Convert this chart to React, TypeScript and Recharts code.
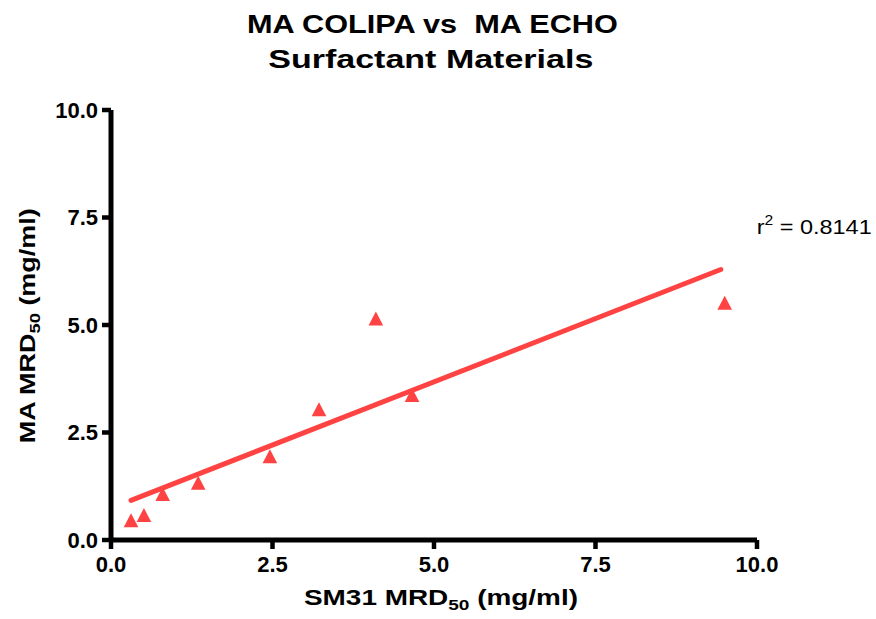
import React from "react";
import { ScatterChart, Scatter, XAxis, YAxis } from "recharts";

const xValues = [0.31, 0.51, 0.8, 1.35, 2.46, 3.22, 4.1, 4.66, 9.5];
const yValues = [0.46, 0.58, 1.07, 1.33, 1.95, 3.04, 5.15, 3.37, 5.52];
const fitX = [0.31, 9.44];
const fitY = [0.92, 6.29];
const axisTicks = [0, 2.5, 5, 7.5, 10];
const titleLines = ["MA COLIPA vs  MA ECHO", "Surfactant Materials"];
const rSquared = "0.8141";

const RED = "#FF4242";
const FONT = "'Liberation Sans', Arial, Helvetica, sans-serif";

const points = xValues.map((x, i) => ({ x, y: yValues[i] }));
const fitLine = fitX.map((x, i) => ({ x, y: fitY[i] }));

const Triangle = (props: any) => {
  const { cx, cy } = props;
  if (cx == null || cy == null) return <g />;
  return (
    <path
      d={`M${cx},${cy - 7} L${cx + 7.3},${cy + 7} L${cx - 7.3},${cy + 7} Z`}
      fill={RED}
    />
  );
};

const NoShape = () => <g />;

const tickStyle = { fill: "#000", fontSize: 22, fontWeight: "bold", fontFamily: FONT };

export default function App() {
  return (
    <div style={{ position: "absolute", left: 0, top: 0, width: 876, height: 619, background: "#fff" }}>
      <ScatterChart width={876} height={619} margin={{ top: 110, right: 119, bottom: 39, left: 31 }}>
        <XAxis
          type="number"
          dataKey="x"
          domain={[0, 10]}
          ticks={axisTicks}
          interval={0}
          tickFormatter={(v: number) => v.toFixed(1)}
          height={40}
          axisLine={{ stroke: "#000", strokeWidth: 5 }}
          tickLine={{ stroke: "#000", strokeWidth: 4.5 }}
          tickSize={9}
          tickMargin={7}
          tick={tickStyle}
          allowDataOverflow
        />
        <YAxis
          type="number"
          dataKey="y"
          domain={[0, 10]}
          ticks={axisTicks}
          interval={0}
          tickFormatter={(v: number) => v.toFixed(1)}
          width={80}
          axisLine={{ stroke: "#000", strokeWidth: 5 }}
          tickLine={{ stroke: "#000", strokeWidth: 4.5 }}
          tickSize={9}
          tickMargin={4}
          tick={tickStyle}
          allowDataOverflow
        />
        <Scatter data={points} shape={Triangle} fill={RED} isAnimationActive={false} />
        <Scatter
          data={fitLine}
          line={{ stroke: RED, strokeWidth: 5, strokeLinecap: "round" } as any}
          shape={NoShape}
          fill={RED}
          isAnimationActive={false}
        />
      </ScatterChart>
      <svg
        width={876}
        height={619}
        style={{ position: "absolute", left: 0, top: 0, pointerEvents: "none" }}
      >
        <text
          x={432.4}
          y={33.3}
          textAnchor="middle"
          fontFamily={FONT}
          fontWeight="bold"
          fontSize={26}
          textLength={371}
          lengthAdjust="spacingAndGlyphs"
          style={{ whiteSpace: "pre" }}
          xmlSpace="preserve"
        >
          {titleLines[0]}
        </text>
        <text
          x={430.8}
          y={68.3}
          textAnchor="middle"
          fontFamily={FONT}
          fontWeight="bold"
          fontSize={26}
          textLength={325}
          lengthAdjust="spacingAndGlyphs"
        >
          {titleLines[1]}
        </text>
        <text
          x={441}
          y={605}
          textAnchor="middle"
          fontFamily={FONT}
          fontWeight="bold"
          fontSize={22}
          textLength={274}
          lengthAdjust="spacingAndGlyphs"
        >
          SM31 MRD
          <tspan fontSize={15} dy={5}>50</tspan>
          <tspan dy={-5}> (mg/ml)</tspan>
        </text>
        <text
          x={0}
          y={0}
          transform="translate(35,325.8) rotate(-90)"
          textAnchor="middle"
          fontFamily={FONT}
          fontWeight="bold"
          fontSize={22}
          textLength={235}
          lengthAdjust="spacingAndGlyphs"
        >
          MA MRD
          <tspan fontSize={15} dy={5}>50</tspan>
          <tspan dy={-5}> (mg/ml)</tspan>
        </text>
        <text
          x={756.7}
          y={234}
          textAnchor="start"
          fontFamily={FONT}
          fontSize={21}
          textLength={115}
          lengthAdjust="spacingAndGlyphs"
        >
          r
          <tspan fontSize={14} dy={-9}>2</tspan>
          <tspan dy={9}>{" = " + rSquared}</tspan>
        </text>
      </svg>
    </div>
  );
}
